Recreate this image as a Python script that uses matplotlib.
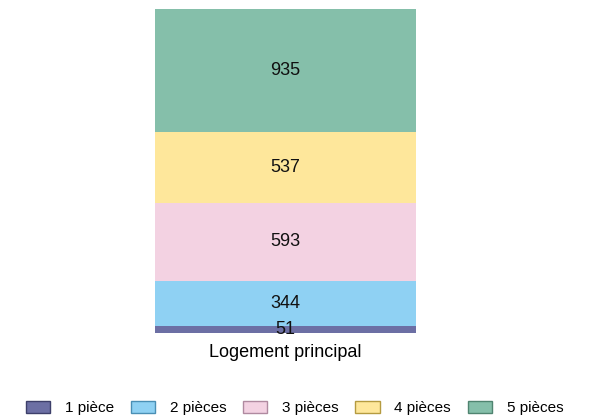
import matplotlib.pyplot as plt
from matplotlib.patches import Patch

plt.rcParams['font.family'] = ['Liberation Sans', 'DejaVu Sans']

CATEGORY = 'Logement principal'
SERIES = ['1 pièce', '2 pièces', '3 pièces', '4 pièces', '5 pièces']
VALUES = [51, 344, 593, 537, 935]
COLORS = ['#6c6fa4', '#8fd1f3', '#f3d2e2', '#fee79b', '#85bfaa']
EDGES = ['#3d3f6a', '#4a8fb5', '#b08aa0', '#b59b40', '#4f8470']


def main():
    fig = plt.figure(figsize=(5.89, 4.18), dpi=100)
    ax = fig.add_axes([155 / 589, 1 - 333 / 418, (416 - 155) / 589, (333 - 9) / 418])

    bottom = 0
    for name, val, col in zip(SERIES, VALUES, COLORS):
        ax.bar(0, val, width=1.0, bottom=bottom, color=col, label=name)
        ax.text(0, bottom + val / 2, str(val), ha='center', va='center',
                fontsize=13, color='#111111')
        bottom += val

    ax.set_xlim(-0.5, 0.5)
    ax.set_ylim(0, sum(VALUES))
    ax.set_xticks([0])
    ax.set_xticklabels([CATEGORY], fontsize=13)
    ax.tick_params(axis='x', length=0, pad=8)
    ax.set_yticks([])
    for s in ax.spines.values():
        s.set_visible(False)

    handles = [Patch(facecolor=c, edgecolor=e, linewidth=1.0)
               for c, e in zip(COLORS, EDGES)]
    fig.legend(handles, SERIES, loc='center', bbox_to_anchor=(0.5, 1 - 408 / 418),
               ncol=5, frameon=False, fontsize=11, handlelength=1.6,
               handleheight=0.9, handletextpad=0.95, columnspacing=1.1)

    fig.savefig('out.png', dpi=100)


if __name__ == '__main__':
    main()
